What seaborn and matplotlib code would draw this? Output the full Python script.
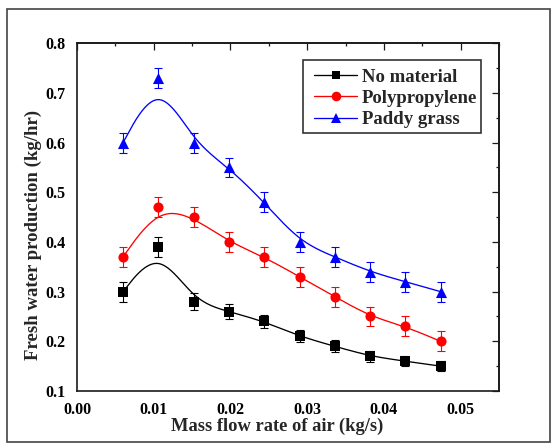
import numpy as np
import pandas as pd
import matplotlib
matplotlib.use("Agg")
import matplotlib.pyplot as plt
from matplotlib.lines import Line2D
from matplotlib.patches import Rectangle
from matplotlib.ticker import MultipleLocator
import seaborn as sns

# ---- data ----
flow_rate = [0.0060, 0.0106, 0.0152, 0.0198, 0.0244, 0.0290, 0.0336, 0.0382, 0.0428, 0.0474]
no_material = [0.30, 0.39, 0.28, 0.26, 0.24, 0.21, 0.19, 0.17, 0.16, 0.15]
no_material_err = [0.020, 0.020, 0.017, 0.015, 0.013, 0.012, 0.012, 0.011, 0.010, 0.010]
polypropylene = [0.37, 0.47, 0.45, 0.40, 0.37, 0.33, 0.29, 0.25, 0.23, 0.20]
polypropylene_err = [0.02] * 10
paddy_grass = [0.60, 0.73, 0.60, 0.55, 0.48, 0.40, 0.37, 0.34, 0.32, 0.30]
paddy_grass_err = [0.02] * 10
series_names = ["No material", "Polypropylene", "Paddy grass"]
x_ticks = [0.00, 0.01, 0.02, 0.03, 0.04, 0.05]
y_ticks = [0.1, 0.2, 0.3, 0.4, 0.5, 0.6, 0.7, 0.8]


def bspline_curve(px, py, per_seg=60):
    """Uniform cubic B-spline using the data points as control points,
    end points tripled so the curve starts/ends on them (Origin-style B-spline line)."""
    P = np.column_stack([np.asarray(px, float), np.asarray(py, float)])
    P = np.vstack([P[0], P[0], P, P[-1], P[-1]])
    u = np.linspace(0, 1, per_seg, endpoint=False)
    b0 = (1 - u) ** 3 / 6
    b1 = (3 * u ** 3 - 6 * u ** 2 + 4) / 6
    b2 = (-3 * u ** 3 + 3 * u ** 2 + 3 * u + 1) / 6
    b3 = u ** 3 / 6
    pts = []
    for i in range(len(P) - 3):
        pts.append(np.outer(b0, P[i]) + np.outer(b1, P[i + 1]) +
                   np.outer(b2, P[i + 2]) + np.outer(b3, P[i + 3]))
    pts.append(P[-1][None, :])
    pts = np.vstack(pts)
    return pts[:, 0], pts[:, 1]


sns.set_style("white")
plt.rcParams["font.family"] = ["Liberation Serif", "DejaVu Serif"]
plt.rcParams["font.weight"] = "bold"

W, H = 551, 444
L, R, T, B = 77, 499, 43.3, 391
fig = plt.figure(figsize=(W / 100, H / 100), dpi=100)
ax = fig.add_axes([L / W, 1 - B / H, (R - L) / W, (B - T) / H])


def ax_x(px):
    return (px - L) / (R - L)


def ax_y(py):
    return (B - py) / (B - T)


colors = ["#000000", "#FF0000", "#0000FF"]
markers = ["s", "o", "^"]
msizes = [6.8, 7.3, 8.0]
values = [no_material, polypropylene, paddy_grass]
errors = [no_material_err, polypropylene_err, paddy_grass_err]

handles = []
for name, vals, errs, c, m, ms in zip(series_names, values, errors, colors, markers, msizes):
    cx, cy = bspline_curve(flow_rate, vals)
    curve = pd.DataFrame({"x": cx, "y": cy})
    sns.lineplot(data=curve, x="x", y="y", ax=ax, color=c, lw=0.95, sort=False, estimator=None)
    ax.errorbar(flow_rate, vals, yerr=errs, fmt="none", ecolor=c, elinewidth=0.8,
                capsize=2.8, capthick=0.8, zorder=3)
    pts = pd.DataFrame({"x": flow_rate, "y": vals})
    sns.scatterplot(data=pts, x="x", y="y", ax=ax, color=c, marker=m, s=ms ** 2,
                    edgecolor=c, linewidth=0, zorder=4)
    handles.append(Line2D([0], [0], color=c, lw=0.95, marker=m, markersize=ms * 0.95,
                          markeredgewidth=0, markeredgecolor=c))

ax.set_xlim(0, 0.055)
ax.set_ylim(0.1, 0.8)
ax.set_xticks(x_ticks)
ax.set_xticklabels([f"{v:.2f}" for v in x_ticks])
ax.set_yticks(y_ticks)
ax.set_yticklabels([f"{v:.1f}" for v in y_ticks])
ax.xaxis.set_minor_locator(MultipleLocator(0.005))
ax.yaxis.set_minor_locator(MultipleLocator(0.05))

spine_c = "#1a1a1a"
for s in ax.spines.values():
    s.set_color(spine_c)
    s.set_linewidth(1.2)

ax.tick_params(axis="both", which="major", direction="out", length=5, width=0.9,
               labelsize=11.5, colors=spine_c, labelcolor="black", pad=3.2)
ax.tick_params(axis="both", which="minor", direction="out", length=3, width=0.9, colors=spine_c)
for lab in ax.get_xticklabels() + ax.get_yticklabels():
    lab.set_fontweight("bold")

# inward ticks on the top and right sides
identity = (lambda v: v, lambda v: v)
top = ax.secondary_xaxis("top", functions=identity)
top.set_xticks(x_ticks)
top.xaxis.set_minor_locator(MultipleLocator(0.005))
top.tick_params(which="major", direction="in", length=5, width=0.9, colors=spine_c, labeltop=False)
top.tick_params(which="minor", direction="in", length=2.5, width=0.9, colors=spine_c)
top.spines["top"].set_linewidth(1.2)
top.spines["top"].set_color(spine_c)
right = ax.secondary_yaxis("right", functions=identity)
right.set_yticks(y_ticks)
right.yaxis.set_minor_locator(MultipleLocator(0.05))
right.tick_params(which="major", direction="in", length=5, width=0.9, colors=spine_c, labelright=False)
right.tick_params(which="minor", direction="in", length=2.5, width=0.9, colors=spine_c)
right.spines["right"].set_linewidth(1.2)
right.spines["right"].set_color(spine_c)

ax.set_xlabel("Mass flow rate of air (kg/s)", fontsize=13.3, fontweight="bold")
ax.xaxis.set_label_coords(ax_x(277.5), ax_y(418))
ax.set_ylabel("Fresh water production (kg/hr)", fontsize=13.5, fontweight="bold")
ax.yaxis.set_label_coords(ax_x(42), ax_y(235))

# legend box (frame drawn at the reference position) and entries
ax.add_patch(Rectangle((ax_x(303), ax_y(133)), ax_x(481) - ax_x(303), ax_y(60) - ax_y(133),
                       transform=ax.transAxes, fill=True, facecolor="white",
                       edgecolor="#333333", linewidth=1.2, zorder=5))
leg = ax.legend(handles, series_names, loc="center left",
                bbox_to_anchor=(ax_x(314), ax_y(98.5)),
                borderaxespad=0, borderpad=0, frameon=False,
                handlelength=2.3, handletextpad=0.25, labelspacing=0.23,
                prop={"family": "Liberation Serif", "weight": "bold", "size": 13.5})
leg.set_zorder(6)

fig.patches.append(Rectangle((7 / W, 1 - 442 / H), 543 / W, 433 / H,
                             transform=fig.transFigure, fill=False,
                             edgecolor="#444444", linewidth=1.2))

fig.savefig("out.png", dpi=100)
